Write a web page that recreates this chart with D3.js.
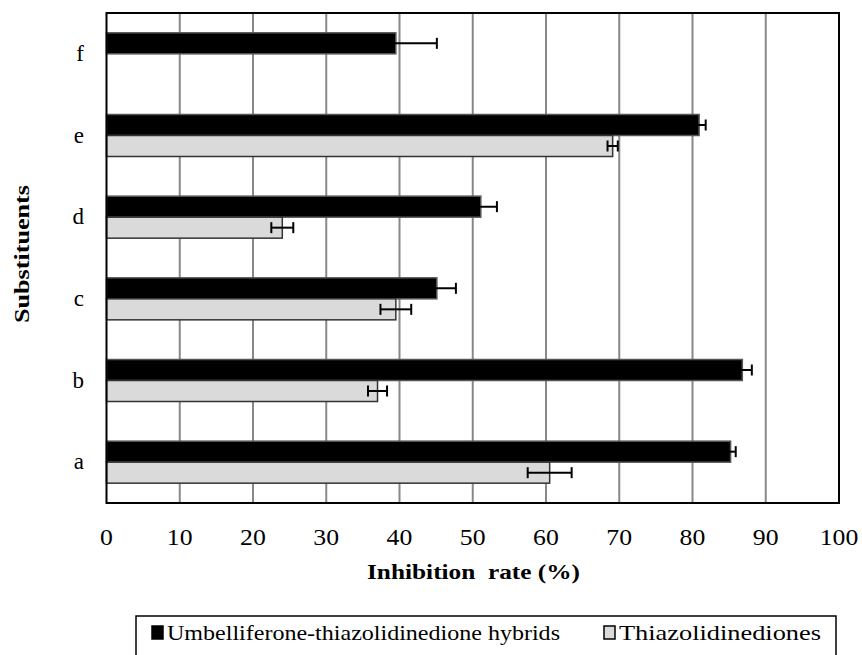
<!DOCTYPE html>
<html>
<head>
<meta charset="utf-8">
<script src="https://cdn.jsdelivr.net/npm/d3@7"></script>
<style>
	body { margin: 0; background: #fff; }
</style>
</head>
<body>
<div id="chart"></div>
<script>

var categories = ['a', 'b', 'c', 'd', 'e', 'f']
var series_names = ['Umbelliferone-thiazolidinedione hybrids', 'Thiazolidinediones']
var hybrid_values = [85.2, 86.8, 45.1, 51.1, 80.9, 39.5]
var hybrid_errors = [0.7, 1.3, 2.6, 2.2, 0.9, 5.6]
var tzd_values = [60.5, 37.0, 39.5, 24.0, 69.1, null]
var tzd_errors = [3.0, 1.3, 2.1, 1.5, 0.7, null]
var x_ticks = [0, 10, 20, 30, 40, 50, 60, 70, 80, 90, 100]

var width = 862,
	height = 655,
	margin = {top: 13, right: 23, bottom: 152, left: 106.5},
	font = '"Liberation Serif", serif'

var svg = d3.select('#chart')
	.append('svg')
	.attr('width', width)
	.attr('height', height)

var x = d3.scaleLinear()
	.domain([0, 100])
	.range([margin.left, width - margin.right])

var y = d3.scaleBand()
	.domain(categories.slice().reverse())
	.range([margin.top, height - margin.bottom])

var bar_h = 21

var rows = categories.map((c, i) => ({
	cat: c,
	bars: [
		{k: 0, v: hybrid_values[i], e: hybrid_errors[i]},
		{k: 1, v: tzd_values[i], e: tzd_errors[i]}
	].filter(b => b.v != null)
}))

// gridlines
svg.append('g')
	.selectAll('line')
	.data(x_ticks.slice(1, -1))
	.join('line')
		.attr('x1', d => x(d))
		.attr('x2', d => x(d))
		.attr('y1', margin.top)
		.attr('y2', height - margin.bottom)
		.attr('stroke', '#888')
		.attr('stroke-width', 2)

var bar_y = (cat, k) => y(cat) + y.bandwidth() / 2 - bar_h + k * bar_h

var groups = svg.append('g')
	.selectAll('g')
	.data(rows)
	.join('g')

groups.selectAll('rect')
	.data(d => d.bars.map(b => Object.assign({cat: d.cat}, b)))
	.join('rect')
		.attr('x', x(0))
		.attr('y', d => bar_y(d.cat, d.k))
		.attr('width', d => x(d.v) - x(0))
		.attr('height', bar_h)
		.attr('fill', d => d.k == 0 ? '#000' : '#dadada')
		.attr('stroke', d => d.k == 0 ? '#555' : '#333')
		.attr('stroke-width', 1.5)

// error bars
var err = groups.selectAll('g.err')
	.data(d => d.bars.map(b => Object.assign({cat: d.cat}, b)))
	.join('g')
		.attr('class', 'err')
		.attr('stroke', '#000')
		.attr('stroke-width', 2)

err.append('line')
	.attr('x1', d => x(d.v - d.e))
	.attr('x2', d => x(d.v + d.e))
	.attr('y1', d => bar_y(d.cat, d.k) + bar_h / 2)
	.attr('y2', d => bar_y(d.cat, d.k) + bar_h / 2)

err.selectAll('line.cap')
	.data(d => [d.v - d.e, d.v + d.e].map(v => ({v: v, cy: bar_y(d.cat, d.k) + bar_h / 2})))
	.join('line')
		.attr('class', 'cap')
		.attr('x1', d => x(d.v))
		.attr('x2', d => x(d.v))
		.attr('y1', d => d.cy - 5.5)
		.attr('y2', d => d.cy + 5.5)

// frame
svg.append('rect')
	.attr('x', margin.left)
	.attr('y', margin.top)
	.attr('width', x(100) - x(0))
	.attr('height', height - margin.bottom - margin.top)
	.attr('fill', 'none')
	.attr('stroke', '#000')
	.attr('stroke-width', 2)

// x axis labels
svg.append('g')
	.selectAll('text')
	.data(x_ticks)
	.join('text')
		.style('font-family', font)
		.attr('x', d => x(d))
		.attr('y', 545)
		.attr('text-anchor', 'middle')
		.attr('font-size', 23)
		.attr('transform', d => 'translate(' + x(d) + ',0) scale(1.12,1) translate(' + (-x(d)) + ',0)')
		.text(d => d)

// category labels
svg.append('g')
	.selectAll('text')
	.data(categories)
	.join('text')
		.style('font-family', font)
		.attr('x', 84)
		.attr('y', d => y(d) + y.bandwidth() / 2 + 7)
		.attr('text-anchor', 'end')
		.attr('font-size', 23)
		.text(d => d)

svg.append('text')
	.style('font-family', font)
	.attr('x', 367)
	.attr('y', 579)
	.attr('font-size', 21)
	.attr('font-weight', 'bold')
	.attr('textLength', 213)
	.attr('lengthAdjust', 'spacingAndGlyphs')
	.attr('xml:space', 'preserve')
	.text('Inhibition  rate (%)')

svg.append('text')
	.style('font-family', font)
	.attr('transform', 'translate(29,254) rotate(-90)')
	.attr('x', -69)
	.attr('font-size', 21)
	.attr('font-weight', 'bold')
	.attr('textLength', 138)
	.attr('lengthAdjust', 'spacingAndGlyphs')
	.text('Substituents')

// legend
var legend = svg.append('g')

legend.append('rect')
	.attr('x', 136)
	.attr('y', 616)
	.attr('width', 700)
	.attr('height', 50)
	.attr('fill', 'none')
	.attr('stroke', '#000')
	.attr('stroke-width', 1.5)

var legend_x = [152, 604],
	legend_w = [393, 202]

var items = legend.selectAll('g.item')
	.data(series_names)
	.join('g')
		.attr('class', 'item')
		.attr('transform', (d, i) => 'translate(' + legend_x[i] + ',0)')

items.append('rect')
	.attr('x', 0)
	.attr('y', 626)
	.attr('width', 11)
	.attr('height', 13)
	.attr('fill', (d, i) => i == 0 ? '#000' : '#dadada')
	.attr('stroke', '#000')
	.attr('stroke-width', 1.5)

items.append('text')
	.style('font-family', font)
	.attr('x', 15)
	.attr('y', 640)
	.attr('font-size', 21)
	.attr('textLength', (d, i) => legend_w[i])
	.attr('lengthAdjust', 'spacingAndGlyphs')
	.text(d => d)

</script>
</body>
</html>
